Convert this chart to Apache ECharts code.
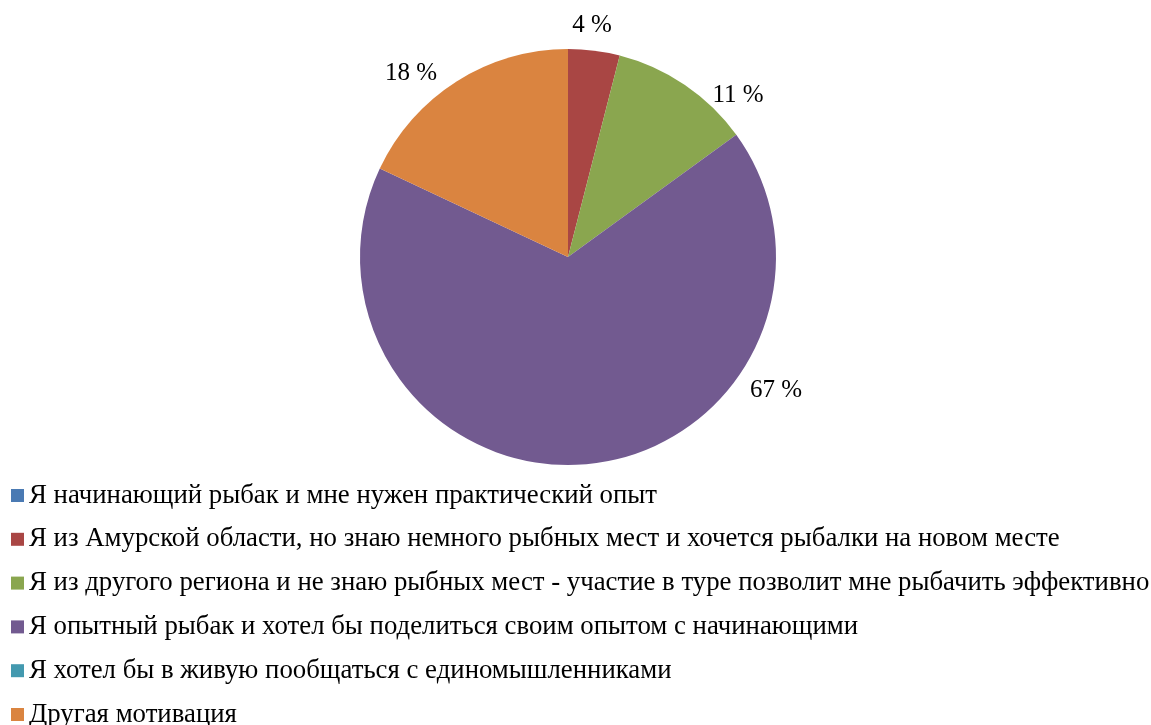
<!DOCTYPE html>
<html>
<head>
<meta charset="utf-8">
<script src="https://cdn.jsdelivr.net/npm/echarts@6/dist/echarts.min.js"></script>
<style>
html,body{margin:0;padding:0;background:#fff;}
#chart{width:1151px;height:725px;}
</style>
</head>
<body>
<div id="chart"></div>
<script>
const categories = [
  'Я начинающий рыбак и мне нужен практический опыт',
  'Я из Амурской области, но знаю немного рыбных мест и хочется рыбалки на новом месте',
  'Я из другого региона и не знаю рыбных мест - участие в туре позволит мне рыбачить эффективно',
  'Я опытный рыбак и хотел бы поделиться своим опытом с начинающими',
  'Я хотел бы в живую пообщаться с единомышленниками',
  'Другая мотивация'
];
const values = [0, 4, 11, 67, 0, 18];
const colors = ['#4A7AB3', '#A94644', '#8AA64F', '#725A90', '#4399AF', '#DA8440'];

// label anchor points (layout only)
const labelPos = {1: [592, 25], 2: [738, 95], 3: [776, 390], 5: [411, 73]};

const chart = echarts.init(document.getElementById('chart'));
chart.setOption({
  animation: false,
  color: colors,
  legend: {
    orient: 'vertical',
    left: 11,
    top: 482,
    height: 400,
    padding: 0,
    itemWidth: 13,
    itemHeight: 13,
    itemGap: 16.8,
    icon: 'rect',
    textStyle: {
      fontFamily: 'Liberation Serif, Times New Roman, serif',
      fontSize: 26.8,
      color: '#000',
      padding: [0, 0, 0, 0]
    },
    data: categories
  },
  series: [{
    type: 'pie',
    center: [568, 257],
    radius: 208,
    startAngle: 90,
    clockwise: true,
    avoidLabelOverlap: false,
    itemStyle: { borderWidth: 0 },
    label: {
      show: true,
      position: 'outside',
      formatter: function (p) { return p.value > 0 ? p.value + ' %' : ''; },
      fontFamily: 'Liberation Serif, Times New Roman, serif',
      fontSize: 25,
      color: '#000'
    },
    labelLine: { show: false, length: 10, length2: 0 },
    labelLayout: function (params) {
      const pos = labelPos[params.dataIndex];
      if (!pos) return {};
      return { x: pos[0], y: pos[1], align: 'center', verticalAlign: 'middle' };
    },
    emphasis: { disabled: true },
    data: categories.map((c, i) => ({ name: c, value: values[i] }))
  }]
});
</script>
</body>
</html>
